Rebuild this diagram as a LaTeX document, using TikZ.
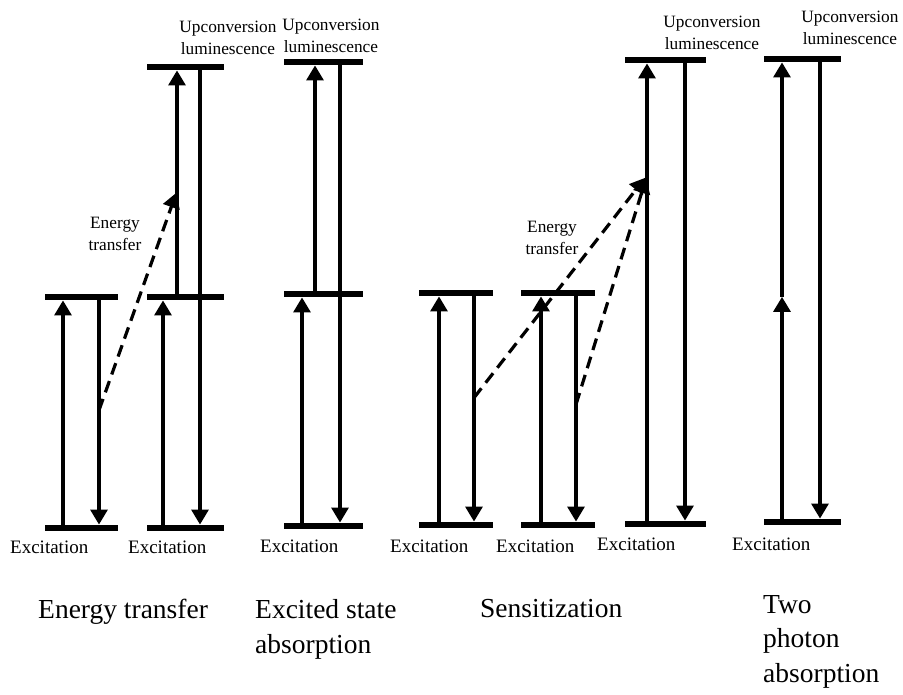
\documentclass[tikz,border=0pt]{standalone}
\usepackage{fontspec}
\setmainfont{Liberation Serif}
\usetikzlibrary{arrows.meta,positioning,calc}

\begin{document}
\begin{tikzpicture}[x=1pt,y=-1pt]
	\tikzstyle{level}=[fill=black,inner sep=0pt,minimum height=6.5pt]
	\tikzstyle{arr}=[line width=3.2pt,-{Triangle[length=15pt,width=17pt]}]
	\tikzstyle{transfer}=[arr,dash pattern=on 12pt off 7pt]
	\tikzstyle{lum}=[font=\fontsize{17.3}{22.5}\selectfont,align=center,inner sep=0pt,anchor=base]
	\tikzstyle{exc}=[font=\fontsize{19}{22}\selectfont,inner sep=0pt,anchor=base west]
	\tikzstyle{title}=[font=\fontsize{27.5}{34.5}\selectfont,align=left,inner sep=0pt,anchor=base west]
	\useasboundingbox (0,0) rectangle (903,695);
	
	% energy transfer
	\node[level,minimum width=73pt](gA) at (81,528){};
	\node[level,minimum width=73pt](eA) at (81,297){};
	\node[level,minimum width=77pt](gB) at (185,528){};
	\node[level,minimum width=77pt](mB) at (185,297){};
	\node[level,minimum width=77pt](tB) at (185,67){};
	
	\draw[arr] ([xshift=-18pt]gA.north) -- ([xshift=-18pt]eA.south);
	\draw[arr] ([xshift=18pt]eA.south) -- ([xshift=18pt]gA.north) coordinate[pos=0.49](dA);
	\draw[arr] ([xshift=-22pt]gB.north) -- ([xshift=-22pt]mB.south);
	\draw[arr] ([xshift=-8pt]mB.north) -- ([xshift=-8pt]tB.south) coordinate[pos=0.46](hB);
	\draw[arr] ([xshift=15pt]tB.south) -- ([xshift=15pt]gB.north);
	\draw[transfer,shorten >=2pt] (dA) -- (hB);
	
	% excited state absorption
	\node[level,minimum width=79pt](gC) at (323,526){};
	\node[level,minimum width=79pt](mC) at (323,294){};
	\node[level,minimum width=79pt](tC) at (323,62){};
	
	\draw[arr] ([xshift=-21pt]gC.north) -- ([xshift=-21pt]mC.south);
	\draw[arr] ([xshift=-8pt]mC.north) -- ([xshift=-8pt]tC.south);
	\draw[arr] ([xshift=17pt]tC.south) -- ([xshift=17pt]gC.north);
	
	% sensitization
	\node[level,minimum width=74pt](gS1) at (456,525){};
	\node[level,minimum width=74pt](eS1) at (456,293){};
	\node[level,minimum width=74pt](gS2) at (558,525){};
	\node[level,minimum width=74pt](eS2) at (558,293){};
	\node[level,minimum width=81pt](gS3) at (665,524){};
	\node[level,minimum width=81pt](tS3) at (665,60){};
	
	\draw[arr] ([xshift=-17pt]gS1.north) -- ([xshift=-17pt]eS1.south);
	\draw[arr] ([xshift=18pt]eS1.south) -- ([xshift=18pt]gS1.north) coordinate[pos=0.45](dS1);
	\draw[arr] ([xshift=-17pt]gS2.north) -- ([xshift=-17pt]eS2.south);
	\draw[arr] ([xshift=18pt]eS2.south) -- ([xshift=18pt]gS2.north) coordinate[pos=0.48](dS2);
	\draw[arr] ([xshift=-18pt]gS3.north) -- ([xshift=-18pt]tS3.south) coordinate[pos=0.755](hS3);
	\draw[arr] ([xshift=20pt]tS3.south) -- ([xshift=20pt]gS3.north);
	\draw[transfer,shorten >=3pt] (dS1) -- (hS3);
	\draw[transfer,shorten >=3pt] (dS2) -- (hS3);
	
	% two photon absorption
	\node[level,minimum width=77pt](gT) at (802,522){};
	\node[level,minimum width=77pt](tT) at (802,59){};
	
	\path ([xshift=-20pt]gT.north) -- ([xshift=-20pt]tT.south) coordinate[pos=0.486](mT);
	\draw[arr] ([xshift=-20pt]gT.north) -- (mT);
	\draw[arr] (mT) -- ([xshift=-20pt]tT.south);
	\draw[arr] ([xshift=18pt]tT.south) -- ([xshift=18pt]gT.north);
	
	% labels
	\node[lum](uA) at (228,55){Upconversion\\luminescence};
	\node[lum](uC) at (331,53){Upconversion\\luminescence};
	\node[lum](uS) at (712,50){Upconversion\\luminescence};
	\node[lum](uT) at (850,45){Upconversion\\luminescence};
	\node[lum](etA) at (115,251){Energy\\transfer};
	\node[lum](etS) at (552,255){Energy\\transfer};
	
	\node[exc](xA) at (10,553){Excitation};
	\node[exc](xB) at (128,553){Excitation};
	\node[exc](xC) at (260,552){Excitation};
	\node[exc](xS1) at (390,552){Excitation};
	\node[exc](xS2) at (496,552){Excitation};
	\node[exc](xS3) at (597,550){Excitation};
	\node[exc](xT) at (732,550){Excitation};
	
	\node[title](tiA) at (38,618){Energy transfer};
	\node[title](tiC) at (255,653){Excited state\\absorption};
	\node[title](tiS) at (480,617){Sensitization};
	\node[title](tiT) at (763,682){Two\\photon\\absorption};
\end{tikzpicture}
\end{document}
